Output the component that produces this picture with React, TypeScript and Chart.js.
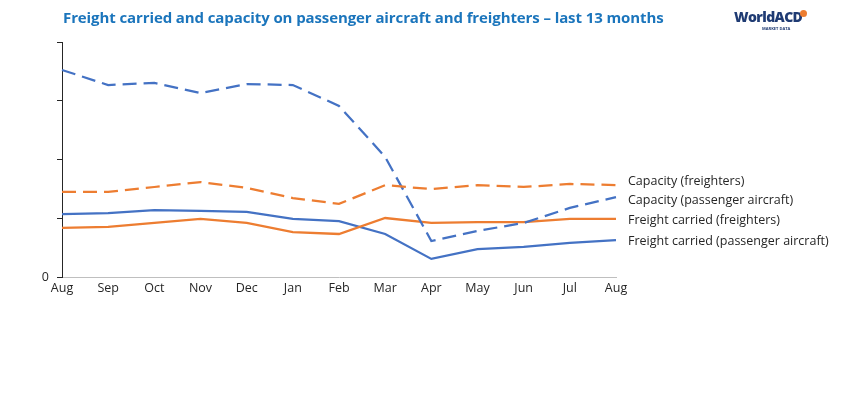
import React, { useEffect, useRef } from "react";
import { Chart, registerables } from "chart.js";

Chart.register(...registerables);

const months = ["Aug", "Sep", "Oct", "Nov", "Dec", "Jan", "Feb", "Mar", "Apr", "May", "Jun", "Jul", "Aug"];
const capacityFreighters = [36.2, 36.2, 38.3, 40.4, 37.9, 33.6, 31.1, 39.1, 37.4, 39.1, 38.3, 39.6, 39.1];
const capacityPassenger = [88.1, 81.7, 82.6, 78.3, 82.1, 81.7, 72.8, 51.1, 15.3, 19.6, 23.0, 29.4, 34.0];
const freightFreighters = [20.9, 21.3, 23.0, 24.7, 23.0, 19.1, 18.3, 25.1, 23.0, 23.4, 23.4, 24.7, 24.7];
const freightPassenger = [26.8, 27.2, 28.5, 28.1, 27.7, 24.7, 23.8, 18.3, 7.7, 11.9, 12.8, 14.5, 15.7];
const seriesNames = [
  "Capacity (freighters)",
  "Capacity (passenger aircraft)",
  "Freight carried (freighters)",
  "Freight carried (passenger aircraft)",
];
const labelValues = [40.6, 32.5, 24.2, 15.3];
const yTicks = [0, 25, 50, 75, 100];

const BLUE = "#4472C4";
const ORANGE = "#ED7D31";
const FONT = "'Open Sans', 'Noto Sans', sans-serif";

const endLabels = {
  id: "endLabels",
  afterDatasetsDraw(chart: any) {
    const { ctx, chartArea, scales } = chart;
    ctx.save();
    ctx.font = `12.5px ${FONT}`;
    ctx.fillStyle = "#262626";
    ctx.textAlign = "left";
    ctx.textBaseline = "middle";
    seriesNames.forEach((name, i) => {
      ctx.fillText(name, chartArea.right + 12, scales.y.getPixelForValue(labelValues[i]));
    });
    ctx.restore();
  },
};

export default function App() {
  const ref = useRef<HTMLCanvasElement>(null);
  useEffect(() => {
    document.body.style.margin = "0";
    const chart = new Chart(ref.current!, {
      type: "line",
      data: {
        labels: months,
        datasets: [
          { label: seriesNames[0], data: capacityFreighters, borderColor: ORANGE, borderDash: [14, 7], borderWidth: 2.25, pointRadius: 0, tension: 0 },
          { label: seriesNames[1], data: capacityPassenger, borderColor: BLUE, borderDash: [14, 7], borderWidth: 2.25, pointRadius: 0, tension: 0 },
          { label: seriesNames[2], data: freightFreighters, borderColor: ORANGE, borderWidth: 2.25, pointRadius: 0, tension: 0 },
          { label: seriesNames[3], data: freightPassenger, borderColor: BLUE, borderWidth: 2.25, pointRadius: 0, tension: 0 },
        ],
      },
      options: {
        animation: false,
        responsive: false,
        maintainAspectRatio: false,
        layout: { padding: { top: 42, right: 238, left: 0, bottom: 0 } },
        plugins: { legend: { display: false }, tooltip: { enabled: false }, title: { display: false } },
        scales: {
          x: {
            offset: false,
            grid: { display: false, drawTicks: false },
            border: { display: true, color: "#bfbfbf", width: 1 },
            ticks: { color: "#262626", font: { family: FONT, size: 12.5 }, padding: 4, maxRotation: 0, autoSkip: false },
            afterFit: (s: any) => { s.height = 118; },
          },
          y: {
            min: 0,
            max: 100,
            afterBuildTicks: (s: any) => { s.ticks = yTicks.map((v) => ({ value: v })); },
            grid: { drawOnChartArea: false, drawTicks: true, tickLength: 5, color: "#262626" },
            border: { display: true, color: "#262626", width: 1 },
            ticks: {
              color: "#262626",
              font: { family: FONT, size: 12.5 },
              padding: 8,
              callback: (v: any) => (v === 0 ? "0" : ""),
            },
            afterFit: (s: any) => { s.width = 62; },
          },
        },
      },
      plugins: [endLabels],
    });
    return () => chart.destroy();
  }, []);

  return (
    <div style={{ position: "relative", width: 854, height: 395, background: "#fff", overflow: "hidden" }}>
      <canvas ref={ref} width={854} height={395} style={{ position: "absolute", left: 0, top: 0 }} />
      <div style={{ position: "absolute", left: 63, top: 7, fontFamily: FONT, fontWeight: 700, fontSize: 15, color: "#1B75BC", whiteSpace: "nowrap", letterSpacing: -0.1 }}>
        Freight carried and capacity on passenger aircraft and freighters – last 13 months
      </div>
      <div style={{ position: "absolute", left: 734, top: 9, fontFamily: FONT, fontWeight: 800, fontSize: 14, color: "#1F3B73", letterSpacing: -0.6, lineHeight: "16px" }}>
        WorldACD
        <span style={{ position: "absolute", left: 66, top: 1, width: 7, height: 7, borderRadius: "50%", background: ORANGE }} />
      </div>
      <div style={{ position: "absolute", left: 762, top: 26, fontFamily: FONT, fontWeight: 700, fontSize: 4, color: "#1F3B73", whiteSpace: "nowrap" }}>
        MARKET DATA
      </div>
    </div>
  );
}
